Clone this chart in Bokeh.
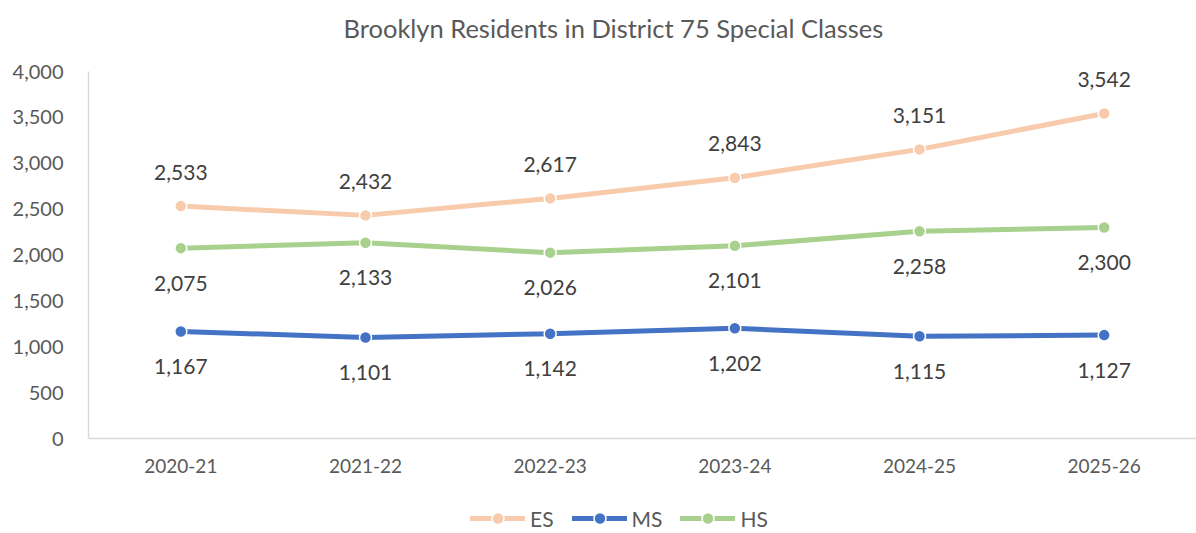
from bokeh.plotting import figure
from bokeh.models import Legend, LegendItem, Title, CustomJSTickFormatter
from bokeh.core.properties import value
from bokeh.embed import file_html
from bokeh.resources import INLINE

years = ["2020-21", "2021-22", "2022-23", "2023-24", "2024-25", "2025-26"]
es = [2533, 2432, 2617, 2843, 3151, 3542]
ms = [1167, 1101, 1142, 1202, 1115, 1127]
hs = [2075, 2133, 2026, 2101, 2258, 2300]
y_ticks = [0, 500, 1000, 1500, 2000, 2500, 3000, 3500, 4000]

FONT = "Lato"
# frame extends to the bottom of the canvas so the legend (drawn inside) is not clipped
p = figure(width=1196, height=533, x_range=years, y_range=(-1035, 4000),
           output_backend="svg", toolbar_location=None,
           min_border_left=88, min_border_right=0, min_border_top=71,
           min_border_bottom=0)
spacer = Title(text=" ", text_font_size="14px", standoff=6)
p.add_layout(spacer, "above")
t = Title(text="Brooklyn Residents in District 75 Special Classes", align="left",
          offset=255, text_font=FONT, text_font_size="25.5px", text_font_style="normal",
          text_color="#595959", standoff=10)
p.add_layout(t, "above")
p.outline_line_color = None
p.xgrid.visible = False
p.ygrid.visible = False

p.yaxis.ticker = y_ticks
p.yaxis.bounds = (0, 4000)
p.yaxis.formatter = CustomJSTickFormatter(code="return tick.toLocaleString('en-US');")
p.xaxis.fixed_location = 0
for ax in (p.xaxis, p.yaxis):
    ax.major_tick_line_color = None
    ax.minor_tick_line_color = None
    ax.axis_line_color = "#D9D9D9"
    ax.axis_line_width = 1.5
    ax.major_label_text_font = FONT
    ax.major_label_text_color = "#595959"
p.yaxis.major_label_text_font_size = "20px"
p.xaxis.major_label_text_font_size = "19px"
p.yaxis.major_label_standoff = 19
p.xaxis.major_label_standoff = 14

series = [("ES", es, "#F8CBAD", -34), ("MS", ms, "#4472C4", 35), ("HS", hs, "#A9D18E", 35)]
items = []
for name, vals, color, off in series:
    l = p.line(years, vals, line_color=color, line_width=5, line_cap="round")
    s = p.scatter(years, vals, size=12, fill_color=color, line_color="white", line_width=1.5)
    p.text(years, vals, text=[f"{v:,}" for v in vals], y_offset=off,
           text_align="center", text_baseline="middle", text_font=value(FONT),
           text_font_size="21px", text_color="#404040")
    items.append(LegendItem(label=name, renderers=[l, s]))

leg = Legend(items=items, orientation="horizontal", location=(382, 0),
             glyph_width=55, glyph_height=30, label_text_font=FONT,
             label_text_font_size="21px", label_text_color="#595959",
             border_line_color=None, background_fill_alpha=0,
             spacing=18, padding=0, margin=0, label_standoff=5)
p.add_layout(leg, "center")

open("out.html", "w").write(file_html(p, INLINE))
